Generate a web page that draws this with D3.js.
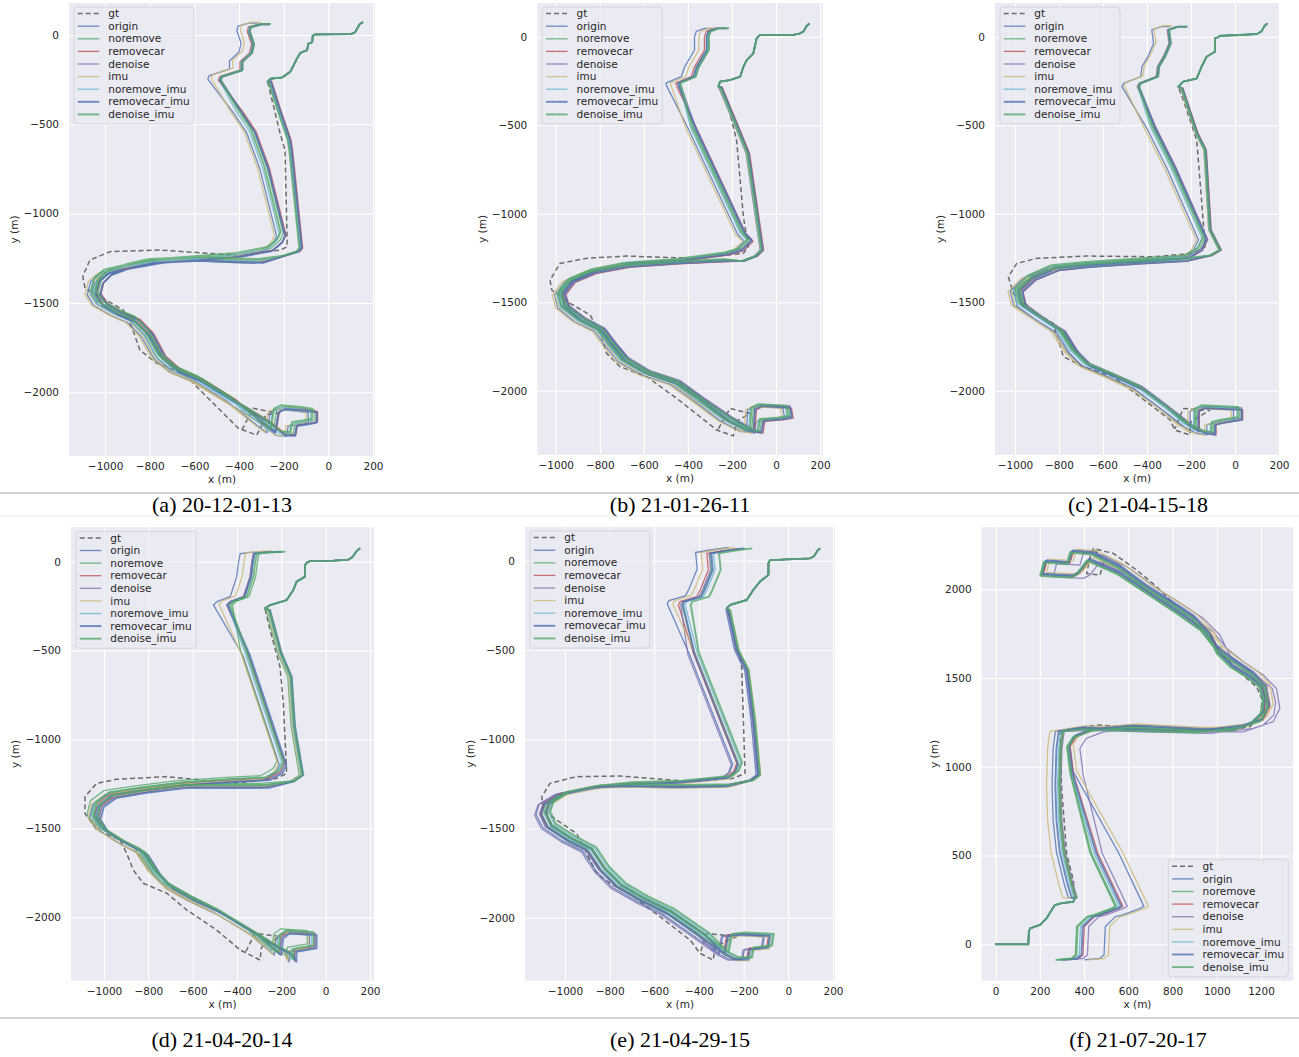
<!DOCTYPE html>
<html lang="en">
<head>
<meta charset="UTF-8">
<title>Trajectories</title>
<script src="https://d3js.org/d3.v7.min.js"></script>
<style>
  body { margin: 0; background: #fff; }
  svg { display: block; font-family: 'DejaVu Sans', sans-serif; }
  .axis-label { font-size: 10.5px; fill: #262626; }
  .legend-item { font-size: 10.5px; fill: #262626; }
  .caption { font-family: 'Liberation Serif', 'Times New Roman', serif; font-size: 22px; fill: #000; }
</style>
</head>
<body>
<div id="chart"></div>
<script>
// ---- series ----
const seriesNames = ["origin", "noremove", "removecar", "denoise", "imu", "noremove_imu", "removecar_imu", "denoise_imu"];
const seriesColors = ["#4c72b0", "#55a868", "#c44e52", "#8172b2", "#ccb974", "#64b5cd", "#4c72b0", "#55a868"];
const seriesWidths = [1.3, 1.3, 1.3, 1.3, 1.3, 1.3, 1.9, 1.9];

const captions = ["(a) 20-12-01-13", "(b) 21-01-26-11", "(c) 21-04-15-18", "(d) 21-04-20-14", "(e) 21-04-29-15", "(f) 21-07-20-17"];

const xTicksNeg = [-1000, -800, -600, -400, -200, 0, 200];
const yTicksNeg = [0, -500, -1000, -1500, -2000];
const xTicksPos = [0, 200, 400, 600, 800, 1000, 1200];
const yTicksPos = [0, 500, 1000, 1500, 2000];

// ---- (a) 20-12-01-13 ----
const headA = [[155,72],[140,60],[120,15],[100,5],[-60,3],[-70,-5],[-72,-40],[-90,-50],[-95,-85],[-125,-100],[-140,-130],[-170,-205],[-205,-237],[-260,-245],[-272,-262]];
const gtRestA = [[-216,-551],[-194,-644],[-184,-1185],[-216,-1204],[-426,-1232],[-575,-1219],[-754,-1204],[-978,-1213],[-1068,-1260],[-1100,-1350],[-1090,-1418],[-1023,-1465],[-918,-1540],[-881,-1633],[-844,-1764],[-769,-1838],[-650,-1894],[-545,-2025],[-403,-2202],[-321,-2240],[-300,-2190],[-280,-2125],[-224,-2118],[-336,-2090],[-388,-2212]];
const leftA = [[-262,62],[-300,62],[-350,45],[-355,20],[-336,-50],[-345,-100],[-388,-150],[-388,-196],[-478,-232],[-485,-252]];
const midA = [[-396,-420],[-336,-532],[-276,-737],[-202,-1110],[-215,-1148],[-260,-1195],[-400,-1228],[-575,-1245],[-750,-1262],[-900,-1295],[-990,-1320],[-1035,-1365],[-1050,-1440],[-1020,-1500],[-945,-1555],[-870,-1595],[-810,-1670],[-750,-1800],[-675,-1875],[-570,-1930],[-420,-2045],[-275,-2155],[-200,-2228],[-157,-2230],[-150,-2175],[-97,-2165],[-60,-2156],[-60,-2100],[-112,-2090],[-202,-2081],[-231,-2100],[-246,-2212],[-290,-2170],[-425,-2035],[-575,-1918],[-675,-1862],[-740,-1790],[-795,-1662],[-855,-1585],[-930,-1545],[-1000,-1495],[-1030,-1440],[-1018,-1378],[-980,-1330],[-890,-1290],[-790,-1262],[-575,-1250],[-420,-1258],[-300,-1262]];
const rightA = [[-200,-1235],[-140,-1212],[-127,-1193],[-172,-644],[-179,-588],[-225,-420],[-266,-258]];
// per series: [dx left branch, dy left branch, dx loop, dy loop, dx right branch]
const shiftsA = [[-55,5,-30,-15,8],[0,0,0,0,5],[-8,0,12,-8,12],[5,0,8,-12,0],[-40,10,-40,-12,5],[-3,0,-18,-5,3],[0,-3,8,-14,8],[3,0,-12,8,-3]];

// ---- (b) 21-01-26-11 ----
const headB = [[151,75],[140,62],[125,30],[109,19],[79,10],[-73,10],[-88,-9],[-103,-94],[-133,-132],[-148,-170],[-163,-226],[-209,-245],[-254,-254],[-262,-282]];
const gtRestB = [[-224,-358],[-179,-584],[-148,-1017],[-126,-1186],[-148,-1224],[-375,-1252],[-678,-1239],[-860,-1252],[-981,-1281],[-1026,-1375],[-1018,-1431],[-935,-1506],[-844,-1572],[-799,-1676],[-769,-1789],[-708,-1864],[-587,-1921],[-451,-2043],[-345,-2147],[-269,-2222],[-194,-2255],[-175,-2170],[-118,-2128],[-209,-2100],[-262,-2215]];
const leftB = [[-224,47],[-270,47],[-307,30],[-315,0],[-315,-75],[-360,-170],[-375,-226],[-445,-262],[-440,-282]];
const midB = [[-375,-508],[-148,-1111],[-118,-1148],[-160,-1200],[-224,-1224],[-451,-1262],[-678,-1281],[-829,-1318],[-935,-1375],[-981,-1450],[-966,-1525],[-890,-1601],[-799,-1657],[-754,-1733],[-693,-1826],[-587,-1902],[-451,-1958],[-345,-2052],[-224,-2165],[-133,-2222],[-73,-2232],[-65,-2165],[18,-2156],[64,-2147],[56,-2090],[-73,-2081],[-103,-2100],[-110,-2222],[-210,-2150],[-340,-2040],[-445,-1945],[-580,-1890],[-680,-1815],[-740,-1725],[-785,-1650],[-875,-1590],[-950,-1520],[-968,-1450],[-925,-1380],[-830,-1330],[-680,-1295],[-450,-1275],[-230,-1262]];
const rightB = [[-150,-1268],[-90,-1240],[-62,-1205],[-95,-922],[-126,-659],[-163,-546],[-250,-285]];
const shiftsB = [[-55,0,-25,-8,-10],[0,0,0,0,-5],[-10,0,14,-8,6],[10,0,8,4,0],[-35,0,-35,-8,-8],[5,0,-14,0,-5],[0,0,8,-5,2],[10,0,-8,5,-3]];

// ---- (c) 21-04-15-18 ----
const headC = [[147,75],[135,62],[120,30],[100,15],[23,10],[-68,5],[-80,-5],[-91,-9],[-91,-85],[-129,-113],[-152,-170],[-174,-236],[-235,-254],[-258,-282]];
const gtRestC = [[-235,-358],[-174,-584],[-152,-923],[-136,-1186],[-189,-1224],[-371,-1243],[-674,-1239],[-902,-1252],[-992,-1281],[-1030,-1356],[-1008,-1450],[-902,-1563],[-826,-1620],[-803,-1714],[-780,-1808],[-689,-1864],[-553,-1921],[-432,-2034],[-295,-2165],[-273,-2222],[-205,-2250],[-200,-2175],[-114,-2109],[-235,-2100],[-273,-2215]];
const leftC = [[-220,57],[-260,57],[-303,38],[-295,-38],[-320,-110],[-348,-170],[-353,-226],[-432,-264],[-439,-282]];
const midC = [[-371,-508],[-280,-734],[-136,-1139],[-160,-1200],[-220,-1243],[-447,-1262],[-674,-1281],[-826,-1299],[-932,-1356],[-992,-1431],[-977,-1507],[-886,-1582],[-795,-1657],[-735,-1770],[-674,-1846],[-568,-1902],[-432,-1977],[-311,-2090],[-220,-2184],[-144,-2232],[-98,-2241],[-98,-2184],[-68,-2175],[23,-2156],[23,-2100],[-144,-2090],[-174,-2109],[-174,-2222],[-290,-2110],[-420,-1990],[-555,-1912],[-660,-1857],[-722,-1780],[-780,-1665],[-870,-1595],[-960,-1515],[-975,-1435],[-915,-1365],[-810,-1312],[-670,-1293],[-447,-1275],[-230,-1260]];
const rightC = [[-110,-1235],[-68,-1205],[-114,-1092],[-136,-640],[-174,-546],[-242,-292]];
const shiftsC = [[-75,0,-30,-8,-5],[0,0,0,0,0],[-5,0,12,-8,6],[5,0,8,3,3],[-65,5,-40,-10,-6],[-3,0,-14,0,-3],[0,0,8,-8,3],[3,0,-8,8,0]];

// ---- (d) 21-04-20-14 ----
const headD = [[155,75],[140,60],[120,25],[100,10],[34,6],[-71,3],[-85,-5],[-93,-19],[-93,-84],[-131,-112],[-146,-159],[-176,-216],[-251,-244],[-274,-262]];
const gtRestD = [[-251,-384],[-206,-591],[-191,-797],[-176,-1190],[-221,-1219],[-416,-1247],[-717,-1209],[-943,-1224],[-1033,-1247],[-1086,-1322],[-1086,-1416],[-1033,-1509],[-928,-1565],[-898,-1640],[-868,-1734],[-823,-1809],[-717,-1865],[-627,-1959],[-492,-2072],[-386,-2184],[-296,-2241],[-290,-2170],[-206,-2109],[-319,-2090],[-364,-2203]];
const leftD = [[-206,56],[-280,52],[-326,45],[-334,-9],[-341,-84],[-371,-197],[-431,-225],[-446,-244]];
const midD = [[-356,-516],[-191,-1134],[-210,-1180],[-266,-1219],[-416,-1228],[-642,-1247],[-823,-1275],[-973,-1303],[-1033,-1359],[-1048,-1434],[-1018,-1490],[-928,-1565],[-837,-1622],[-777,-1734],[-717,-1809],[-612,-1884],[-492,-1959],[-341,-2072],[-221,-2165],[-161,-2203],[-146,-2241],[-146,-2184],[-55,-2165],[-55,-2090],[-176,-2081],[-206,-2109],[-214,-2203],[-320,-2090],[-470,-1975],[-600,-1900],[-700,-1830],[-760,-1750],[-815,-1640],[-905,-1580],[-995,-1510],[-1030,-1440],[-1015,-1370],[-960,-1320],[-820,-1290],[-640,-1262],[-420,-1262],[-270,-1262]];
const rightD = [[-150,-1235],[-109,-1200],[-146,-928],[-161,-647],[-206,-516],[-259,-272]];
const shiftsD = [[-60,0,-18,-10,0],[25,0,-28,15,-10],[0,0,6,0,5],[0,0,6,-6,5],[-35,5,-24,-6,-5],[5,0,-8,5,0],[5,0,14,-10,8],[15,0,0,6,5]];

// ---- (e) 21-04-29-15 ----
const headE = [[142,69],[130,55],[115,25],[97,13],[-82,3],[-89,-15],[-89,-80],[-127,-117],[-157,-164],[-186,-220],[-261,-248],[-276,-267]];
const gtRestE = [[-246,-388],[-209,-594],[-201,-892],[-194,-1191],[-246,-1219],[-425,-1238],[-754,-1206],[-948,-1210],[-1067,-1247],[-1104,-1322],[-1097,-1397],[-1037,-1453],[-948,-1528],[-903,-1640],[-858,-1752],[-798,-1808],[-694,-1882],[-575,-1994],[-440,-2125],[-395,-2200],[-336,-2237],[-328,-2160],[-231,-2106],[-366,-2088],[-395,-2200]];
const leftE = [[-217,69],[-300,55],[-365,41],[-358,-52],[-395,-164],[-410,-201],[-485,-229],[-492,-248]];
const midE = [[-425,-519],[-231,-1135],[-245,-1180],[-276,-1210],[-500,-1238],[-724,-1247],[-873,-1266],[-1022,-1303],[-1097,-1359],[-1112,-1416],[-1082,-1490],[-993,-1565],[-903,-1621],[-843,-1733],[-769,-1826],[-664,-1901],[-545,-1975],[-395,-2106],[-291,-2200],[-246,-2228],[-186,-2228],[-179,-2172],[-97,-2162],[-89,-2097],[-216,-2088],[-276,-2097],[-291,-2200],[-380,-2090],[-530,-1960],[-650,-1888],[-750,-1815],[-825,-1722],[-885,-1610],[-975,-1552],[-1065,-1480],[-1090,-1410],[-1075,-1355],[-1005,-1300],[-860,-1262],[-720,-1257],[-500,-1262],[-280,-1258]];
const rightE = [[-165,-1230],[-134,-1200],[-157,-892],[-186,-612],[-231,-500],[-269,-276]];
const shiftsE = [[-50,5,-18,-5,-10],[15,0,6,0,5],[0,0,0,0,0],[10,0,-24,-10,-5],[-25,5,12,-12,10],[30,0,18,0,5],[20,0,6,-6,0],[55,0,24,6,8]];

// ---- (f) 21-07-20-17 ----
const headF = [[-3,0],[148,0],[150,70],[156,90],[200,109],[230,146],[253,193],[268,221],[300,232],[351,240],[359,262]];
const gtRestF = [[351,362],[321,512],[298,888],[291,1188],[336,1216],[457,1235],[759,1216],[1060,1207],[1150,1226],[1198,1301],[1206,1376],[1180,1451],[1090,1545],[1017,1639],[977,1733],[909,1827],[819,1902],[728,2015],[638,2108],[532,2202],[442,2230],[427,2183],[412,2089],[472,2080],[490,2160],[442,2230]];
const leftF = [[270,-88],[340,-80],[360,-60],[366,100],[412,156],[442,165],[524,202],[540,215],[427,513]];
const midF = [[336,963],[321,1113],[350,1170],[427,1207],[608,1226],[909,1207],[1060,1207],[1150,1245],[1198,1301],[1206,1376],[1191,1451],[1135,1507],[1060,1564],[999,1639],[954,1752],[879,1846],[788,1921],[668,2015],[547,2127],[427,2202],[336,2211],[321,2146],[216,2155],[200,2080],[336,2071],[366,2090],[412,2164],[547,2089],[683,1977],[819,1865],[924,1771],[984,1677],[1060,1602],[1150,1527],[1210,1451],[1225,1339],[1195,1264],[1105,1226],[909,1198],[608,1207],[380,1215]];
const rightF = [[300,1200],[290,1100],[285,900],[290,700],[305,520],[340,340],[359,262]];
const shiftsF = [[130,0,15,10,-30],[0,0,0,0,0],[35,0,15,0,5],[55,0,60,-10,10],[150,0,30,15,-55],[18,0,5,0,-5],[28,0,10,5,-15],[5,0,5,-5,5]];

// ---- layout (pixel frames and axis limits) ----
const frames = [
  {x0: 69,    x1: 375,    y0: 3,     y1: 456,   xd: [-1161.7, 209],  yd: [179.2, -2357], xt: xTicksNeg, yt: yTicksNeg, legend: "tl", ylab: 55},
  {x0: 537.3, x1: 822.7,  y0: 3,     y1: 455,   xd: [-1083.8, 212],  yd: [190.4, -2363], xt: xTicksNeg, yt: yTicksNeg, legend: "tl", ylab: 55},
  {x0: 995,   x1: 1279.3, y0: 3,     y1: 455,   xd: [-1090.9, 201.4],yd: [190.4, -2363], xt: xTicksNeg, yt: yTicksNeg, legend: "tl", ylab: 55},
  {x0: 71,    x1: 374,    y0: 527.3, y1: 980.7, xd: [-1149, 218],    yd: [193.5, -2357], xt: xTicksNeg, yt: yTicksNeg, legend: "tl", ylab: 56},
  {x0: 525,   x1: 835,    y0: 527,   y1: 980.7, xd: [-1179, 209],    yd: [188.8, -2353], xt: xTicksNeg, yt: yTicksNeg, legend: "tl", ylab: 55},
  {x0: 981.7, x1: 1293.3, y0: 527.3, y1: 980.7, xd: [-63, 1346],     yd: [2349, -205],   xt: xTicksPos, yt: yTicksPos, legend: "br", ylab: 47}
];
const capPos = [[222, 512], [680, 512], [1138, 512], [222, 1047], [680, 1047], [1138, 1047]];

const panelData = [
  [headA, gtRestA, leftA, midA, rightA, shiftsA],
  [headB, gtRestB, leftB, midB, rightB, shiftsB],
  [headC, gtRestC, leftC, midC, rightC, shiftsC],
  [headD, gtRestD, leftD, midD, rightD, shiftsD],
  [headE, gtRestE, leftE, midE, rightE, shiftsE],
  [headF, gtRestF, leftF, midF, rightF, shiftsF]
];

function estPath(left, mid, right, head, s) {
  return left.map(p => [p[0] + s[0], p[1] + s[1]])
    .concat(mid.map(p => [p[0] + s[2], p[1] + s[3]]))
    .concat(right.map(p => [p[0] + s[4], p[1]]))
    .concat(head.slice().reverse());
}

const fmt = d => String(d).replace("-", "\u2212");

const svg = d3.select("#chart").append("svg")
  .attr("width", 1299).attr("height", 1057);

svg.append("rect").attr("width", 1299).attr("height", 1057).attr("fill", "#fff");

// separators
svg.append("line").attr("x1", 0).attr("x2", 1299).attr("y1", 493).attr("y2", 493)
  .attr("stroke", "#c4c4c4").attr("stroke-width", 1.5);
svg.append("line").attr("x1", 0).attr("x2", 1299).attr("y1", 516).attr("y2", 516)
  .attr("stroke", "#ededed").attr("stroke-width", 1);
svg.append("line").attr("x1", 0).attr("x2", 1299).attr("y1", 1018).attr("y2", 1018)
  .attr("stroke", "#c4c4c4").attr("stroke-width", 1.5);

frames.forEach((f, i) => {
  const [head, gtRest, left, mid, right, shifts] = panelData[i];
  const w = f.x1 - f.x0, h = f.y1 - f.y0;
  const x = d3.scaleLinear().domain(f.xd).range([0, w]);
  const y = d3.scaleLinear().domain(f.yd).range([0, h]);

  const g = svg.append("g").attr("transform", `translate(${f.x0},${f.y0})`);
  g.append("rect").attr("width", w).attr("height", h).attr("fill", "#eaeaf2");

  // grid + ticks
  const gx = g.append("g").attr("transform", `translate(0,${h})`)
    .call(d3.axisBottom(x).tickValues(f.xt).tickSizeInner(-h).tickSizeOuter(0).tickPadding(7).tickFormat(fmt));
  const gy = g.append("g")
    .call(d3.axisLeft(y).tickValues(f.yt).tickSizeInner(-w).tickSizeOuter(0).tickPadding(10).tickFormat(fmt));
  [gx, gy].forEach(a => {
    a.attr("font-family", "'DejaVu Sans', sans-serif").attr("font-size", 10.5);
    a.select(".domain").remove();
    a.selectAll(".tick line").attr("stroke", "#fff").attr("stroke-width", 1.1);
    a.selectAll(".tick text").attr("fill", "#262626");
  });

  g.append("text").attr("class", "axis-label")
    .attr("x", w / 2).attr("y", h + 27).attr("text-anchor", "middle").text("x (m)");
  g.append("text").attr("class", "axis-label")
    .attr("transform", `translate(${-f.ylab},${h / 2}) rotate(-90)`)
    .attr("text-anchor", "middle").attr("dy", "0.35em").text("y (m)");

  // data
  const clipId = "clip" + i;
  g.append("clipPath").attr("id", clipId).append("rect").attr("width", w).attr("height", h);
  const plot = g.append("g").attr("clip-path", `url(#${clipId})`);
  const line = d3.line().x(d => x(d[0])).y(d => y(d[1]));

  plot.append("path").datum(head.concat(gtRest))
    .attr("d", line).attr("fill", "none")
    .attr("stroke", "#555").attr("stroke-width", 1.5).attr("stroke-dasharray", "5,3")
    .attr("stroke-opacity", 0.85).attr("stroke-linejoin", "round");

  seriesNames.forEach((name, k) => {
    plot.append("path").datum(estPath(left, mid, right, head, shifts[k]))
      .attr("d", line).attr("fill", "none")
      .attr("stroke", seriesColors[k]).attr("stroke-width", seriesWidths[k])
      .attr("stroke-opacity", 0.8).attr("stroke-linejoin", "round");
  });

  // legend
  const lw = 120, lh = 117;
  const lx = f.legend === "tl" ? 5 : w - 5 - lw;
  const ly = f.legend === "tl" ? 4 : h - 4 - lh;
  const lg = g.append("g").attr("transform", `translate(${lx},${ly})`);
  lg.append("rect").attr("width", lw).attr("height", lh).attr("rx", 3)
    .attr("fill", "#eaeaf2").attr("fill-opacity", 0.8)
    .attr("stroke", "#cfcfd8").attr("stroke-width", 0.8);
  const entries = ["gt"].concat(seriesNames);
  entries.forEach((name, k) => {
    const yy = 6.6 + k * 12.6;
    const ln = lg.append("line").attr("x1", 3.7).attr("x2", 25.3).attr("y1", yy).attr("y2", yy);
    if (k === 0) {
      ln.attr("stroke", "#555").attr("stroke-width", 1.5).attr("stroke-dasharray", "5,3").attr("stroke-opacity", 0.85);
    } else {
      ln.attr("stroke", seriesColors[k - 1]).attr("stroke-width", seriesWidths[k - 1]).attr("stroke-opacity", 0.8);
    }
    lg.append("text").attr("class", "legend-item")
      .attr("x", 34.3).attr("y", yy).attr("dy", "0.35em").text(name);
  });

  svg.append("text").attr("class", "caption")
    .attr("x", capPos[i][0]).attr("y", capPos[i][1]).attr("text-anchor", "middle")
    .text(captions[i]);
});
</script>
</body>
</html>
